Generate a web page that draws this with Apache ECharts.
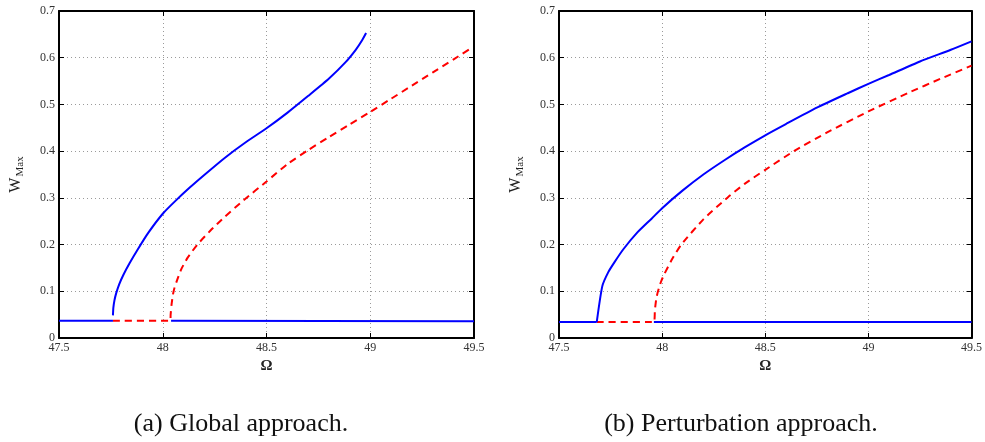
<!DOCTYPE html>
<html>
<head>
<meta charset="utf-8">
<script src="https://cdn.jsdelivr.net/npm/echarts@6/dist/echarts.min.js"></script>
<style>
  html, body { margin: 0; padding: 0; background: #fff; }
  #chart { width: 985px; height: 442px; }
</style>
</head>
<body>
<div id="chart"></div>
<script>
// Frequency-response branches, (a) global approach
const globalStableLowA = [[47.5, 0.037], [47.76, 0.037]];
const globalStableLowB = [[48.04, 0.037], [49.5, 0.036]];
const globalStableHigh = [
  [47.76, 0.0485], [47.762, 0.065], [47.767, 0.08], [47.775, 0.095], [47.79, 0.115],
  [47.81, 0.135], [47.84, 0.16], [47.88, 0.19], [47.93, 0.225], [48.0, 0.266],
  [48.06, 0.293], [48.13, 0.322], [48.2, 0.349], [48.3, 0.386], [48.4, 0.419],
  [48.5, 0.449], [48.6, 0.482], [48.7, 0.518], [48.8, 0.555], [48.88, 0.59],
  [48.93, 0.617], [48.96, 0.637], [48.98, 0.653]
];
const globalUnstable = [
  [47.76, 0.037], [48.036, 0.037], [48.038, 0.05], [48.042, 0.07], [48.048, 0.09],
  [48.055, 0.105], [48.07, 0.125], [48.09, 0.148], [48.12, 0.172], [48.167, 0.2],
  [48.23, 0.23], [48.3, 0.26], [48.39, 0.295], [48.5, 0.335], [48.6, 0.372],
  [48.7, 0.402], [48.8, 0.43], [48.9, 0.457], [49.0, 0.484], [49.1, 0.512],
  [49.2, 0.54], [49.3, 0.568], [49.4, 0.596], [49.495, 0.623]
];

// Frequency-response branches, (b) perturbation approach
const pertStableLowA = [[47.5, 0.034], [47.683, 0.034]];
const pertStableLowB = [[47.96, 0.034], [49.5, 0.034]];
const pertStableHigh = [
  [47.683, 0.034], [47.71, 0.111], [47.739, 0.141], [47.77, 0.163], [47.812, 0.19],
  [47.88, 0.226], [47.95, 0.256], [48.0, 0.278], [48.1, 0.316], [48.2, 0.35],
  [48.3, 0.38], [48.4, 0.408], [48.5, 0.434], [48.6, 0.458], [48.75, 0.493],
  [48.9, 0.524], [49.0, 0.544], [49.1, 0.563], [49.25, 0.592], [49.4, 0.617],
  [49.5, 0.635]
];
const pertUnstable = [
  [47.683, 0.034], [47.96, 0.034], [47.965, 0.06], [47.972, 0.085], [47.98, 0.10],
  [47.995, 0.121], [48.012, 0.138], [48.05, 0.17], [48.093, 0.2], [48.2, 0.254],
  [48.318, 0.301], [48.4, 0.33], [48.5, 0.36], [48.639, 0.40], [48.8, 0.44],
  [49.0, 0.485], [49.2, 0.526], [49.35, 0.555], [49.5, 0.583]
];

const xTicks = [47.5, 48, 48.5, 49, 49.5];
const yTicks = [0, 0.1, 0.2, 0.3, 0.4, 0.5, 0.6, 0.7];
const captions = ['(a) Global approach.', '(b) Perturbation approach.'];

const serif = '"Liberation Serif", "DejaVu Serif", serif';
const BLUE = '#0000ff';
const RED = '#ff0000';

const grids = [
  { left: 59, top: 11, width: 415, height: 327 },
  { left: 559, top: 11, width: 415, height: 327 }
];

const frameLine = { show: true, onZero: false, lineStyle: { color: '#000', width: 2 } };
const innerTick = { show: true, inside: true, length: 5, lineStyle: { color: '#000' } };
const dottedGrid = { show: true, lineStyle: { color: '#9a9a9a', type: [1, 3], width: 1 } };

function mainX(gi) {
  return {
    type: 'value', gridIndex: gi, position: 'bottom',
    min: xTicks[0], max: xTicks[xTicks.length - 1], interval: 0.5,
    name: 'Ω', nameLocation: 'middle', nameGap: 14,
    nameTextStyle: { fontFamily: serif, fontSize: 15, fontWeight: 'bold', color: '#222' },
    axisLine: frameLine, axisTick: innerTick,
    axisLabel: { fontFamily: serif, fontSize: 12, color: '#333', margin: 4,
      formatter: v => String(v) },
    splitLine: dottedGrid
  };
}
function boxX(gi) {
  return {
    type: 'value', gridIndex: gi, position: 'top',
    min: xTicks[0], max: xTicks[xTicks.length - 1], interval: 0.5,
    axisLine: frameLine, axisTick: innerTick,
    axisLabel: { show: false }, splitLine: { show: false }
  };
}
function mainY(gi) {
  return {
    type: 'value', gridIndex: gi, position: 'left',
    min: yTicks[0], max: yTicks[yTicks.length - 1], interval: 0.1,
    name: 'W{sub|Max}', nameLocation: 'middle', nameGap: 33, nameRotate: 90,
    nameTextStyle: { fontFamily: serif, fontSize: 16, color: '#222',
      rich: { sub: { fontFamily: serif, fontSize: 11, color: '#222', padding: [9, 0, 0, 1] } } },
    axisLine: frameLine, axisTick: innerTick,
    axisLabel: { fontFamily: serif, fontSize: 12, color: '#333', margin: 4,
      formatter: v => String(Math.round(v * 10) / 10) },
    splitLine: dottedGrid
  };
}
function boxY(gi) {
  return {
    type: 'value', gridIndex: gi, position: 'right',
    min: yTicks[0], max: yTicks[yTicks.length - 1], interval: 0.1,
    axisLine: frameLine, axisTick: innerTick,
    axisLabel: { show: false }, splitLine: { show: false }
  };
}

function line(data, gi, color, dashed) {
  return {
    type: 'line', data: data, xAxisIndex: gi * 2, yAxisIndex: gi * 2,
    showSymbol: false, symbol: 'none', smooth: 0.2,
    lineStyle: { color: color, width: 2, type: dashed ? [7, 5] : 'solid' },
    z: dashed ? 3 : 4
  };
}

const chart = echarts.init(document.getElementById('chart'));
chart.setOption({
  backgroundColor: '#fff',
  animation: false,
  grid: grids,
  xAxis: [mainX(0), boxX(0), mainX(1), boxX(1)],
  yAxis: [mainY(0), boxY(0), mainY(1), boxY(1)],
  series: [
    line(globalUnstable, 0, RED, true),
    line(globalStableLowA, 0, BLUE, false),
    line(globalStableLowB, 0, BLUE, false),
    line(globalStableHigh, 0, BLUE, false),
    line(pertUnstable, 1, RED, true),
    line(pertStableLowA, 1, BLUE, false),
    line(pertStableLowB, 1, BLUE, false),
    line(pertStableHigh, 1, BLUE, false)
  ],
  graphic: [
    { type: 'text', x: 241, y: 424,
      style: { text: captions[0], font: '26px ' + serif, fill: '#111',
        align: 'center', verticalAlign: 'middle' } },
    { type: 'text', x: 741, y: 424,
      style: { text: captions[1], font: '26px ' + serif, fill: '#111',
        align: 'center', verticalAlign: 'middle' } }
  ]
});
</script>
</body>
</html>
